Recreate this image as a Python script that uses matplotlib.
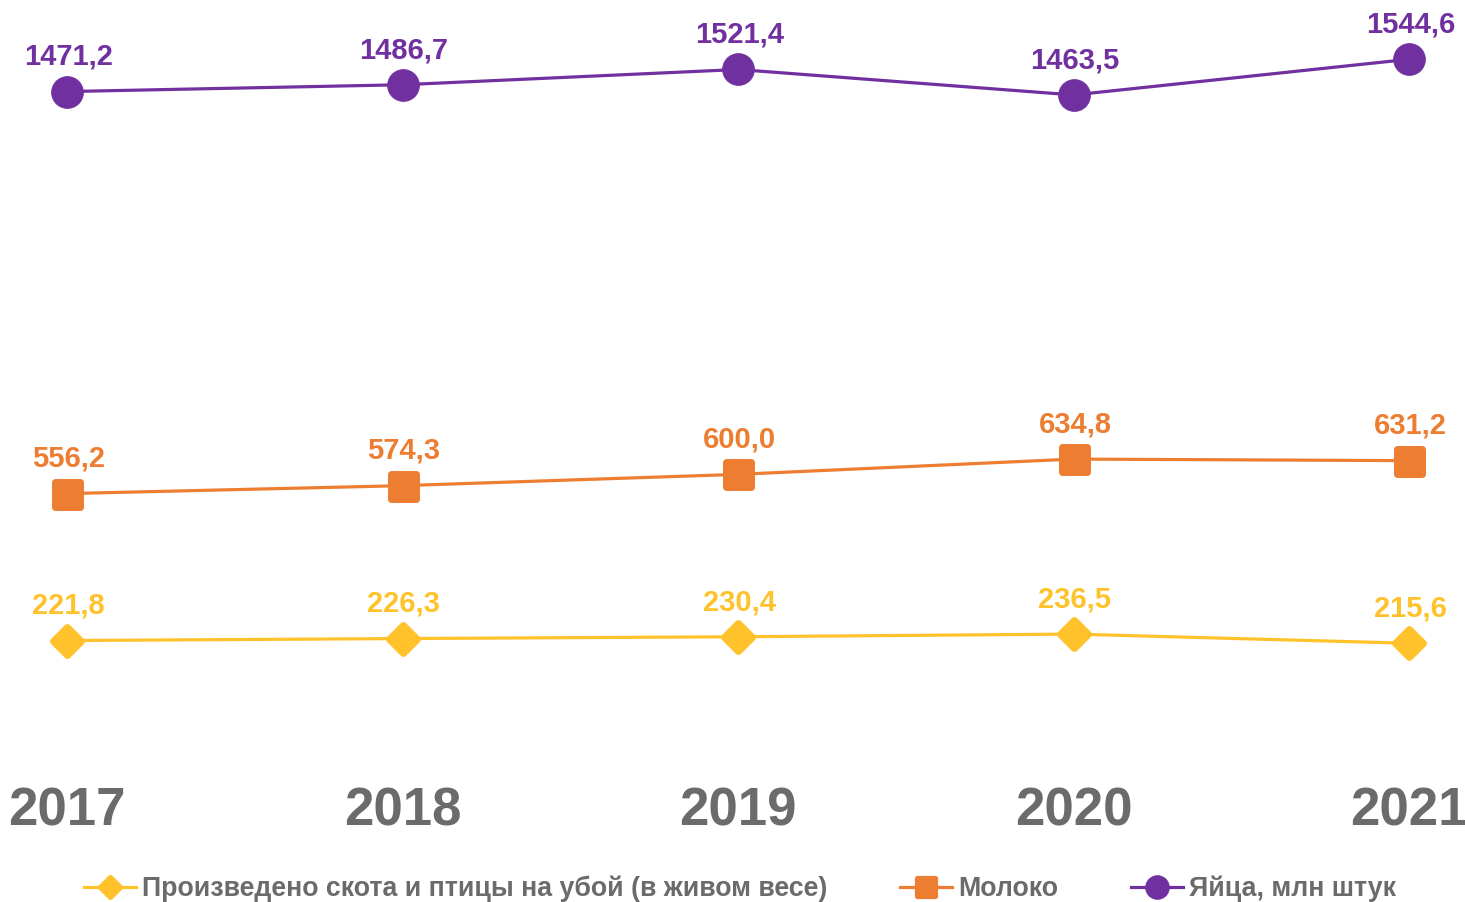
import matplotlib
matplotlib.use("Agg")
import matplotlib.pyplot as plt
from matplotlib.lines import Line2D
from matplotlib.markers import MarkerStyle

plt.rcParams['font.family'] = ['Liberation Sans', 'DejaVu Sans']

years = [2017, 2018, 2019, 2020, 2021]
livestock = [221.8, 226.3, 230.4, 236.5, 215.6]
milk = [556.2, 574.3, 600.0, 634.8, 631.2]
eggs = [1471.2, 1486.7, 1521.4, 1463.5, 1544.6]

names = ["Произведено скота и птицы на убой (в живом весе)", "Молоко", "Яйца, млн штук"]
colors = ["#FFC22B", "#ED7D31", "#7030A0"]
markers = ["D", "s", "o"]
msizes = [14, 18, 23]
mews = [5, 5, 0.5]

fig = plt.figure(figsize=(14.65, 9.02), dpi=100)
ax = fig.add_axes([0, 1 - 738 / 902, 1, 738 / 902])
ax.set_xlim(2017 - 67 / 335.5, 2017 + 1398 / 335.5)
ax.set_ylim(0, 738 / 0.4394)

series = [livestock, milk, eggs]
handles = []
for vals, c, m, ms, mew, n in zip(series, colors, markers, msizes, mews, names):
    mk = MarkerStyle(m, joinstyle="round")
    ax.plot(years, vals, color=c, lw=2.3, marker=mk, ms=ms, mec=c, mfc=c, mew=mew, zorder=3)
    for x, v in zip(years, vals):
        ax.annotate(f"{v:.1f}".replace(".", ","), (x, v), xytext=(1, 25),
                    textcoords="offset points", ha="center", va="center",
                    fontsize=21, fontweight="bold", color=c)
    handles.append(Line2D([0], [0], color=c, lw=2.3, marker=mk, ms=ms * 0.75, mec=c, mfc=c, mew=mew * 0.75))

for s in ax.spines.values():
    s.set_visible(False)
ax.set_yticks([])
ax.set_xticks(years)
ax.set_xticklabels([str(y) for y in years], fontsize=38, fontweight="bold", color="#6B6B6B")
ax.tick_params(axis="x", length=0, pad=35)

leg = fig.legend(handles, names, loc="center", bbox_to_anchor=(740 / 1465, 1 - 889 / 902),
                 ncol=3, frameon=False, fontsize=19.3, handlelength=1.95, handletextpad=0.22,
                 columnspacing=2.7)
for t in leg.get_texts():
    t.set_color("#6B6B6B")
    t.set_fontweight("bold")

fig.savefig("out.png", dpi=100)
